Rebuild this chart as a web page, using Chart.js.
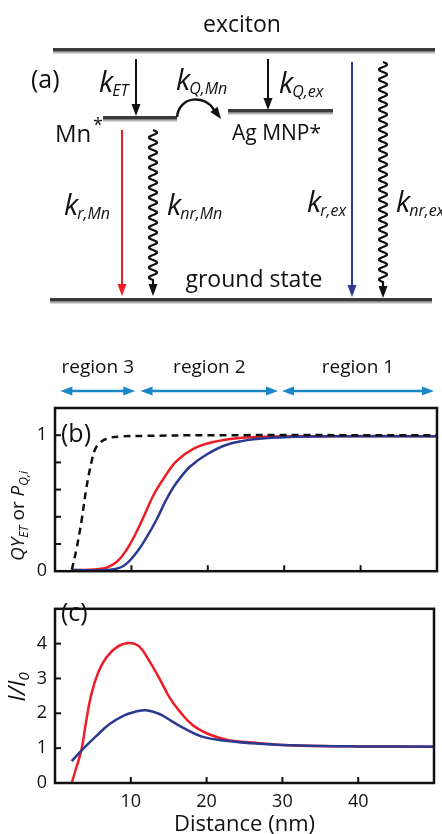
<!DOCTYPE html>
<html>
<head>
<meta charset="utf-8">
<script src="https://cdn.jsdelivr.net/npm/chart.js@4.4.1/dist/chart.umd.min.js"></script>
<style>
  html, body { margin: 0; padding: 0; background: #fff; }
  #wrap { position: relative; width: 442px; height: 834px; overflow: hidden; }
  canvas { position: absolute; left: 0; }
</style>
</head>
<body>
<div id="wrap">
  <canvas id="scheme" width="442" height="340" style="top:0"></canvas>
  <canvas id="qy" width="442" height="250" style="top:340px"></canvas>
  <canvas id="ratio" width="442" height="244" style="top:590px"></canvas>
</div>
<script>
const FONT = '"Open Sans", "Noto Sans", sans-serif';
const RED = '#ee1d25';
const BLUE = '#2b3990';
const CYAN = '#1b87c9';

// x axis (Distance, nm)
const xTicks = [10, 20, 30, 40];

// (b) QY_ET / P_Q,i — dashed black curve
const qyDashX = [2.2, 2.8, 3.5, 4.1, 4.8, 5.2, 5.8, 6.8, 8.5, 12, 20, 50];
const qyDashY = [0.01, 0.16, 0.38, 0.61, 0.81, 0.89, 0.94, 0.975, 0.99, 0.995, 1.0, 1.0];
// (b) red curve
const qyRedX = [2.2, 6.3, 8.1, 9.4, 10.5, 11.6, 12.9, 14.2, 15.9, 18.1, 20.7, 24.2, 28, 35, 50];
const qyRedY = [0.008, 0.02, 0.07, 0.16, 0.27, 0.40, 0.56, 0.68, 0.81, 0.90, 0.95, 0.98, 0.99, 0.993, 0.993];
// (b) blue curve
const qyBlueX = [2.2, 7.2, 9.0, 10.7, 12.0, 13.3, 14.6, 15.9, 17.7, 19.9, 22.5, 26, 30, 36, 50];
const qyBlueY = [0.008, 0.01, 0.04, 0.14, 0.25, 0.38, 0.53, 0.65, 0.77, 0.86, 0.93, 0.97, 0.985, 0.992, 0.993];

// (c) I/I0 — red curve
const ratioRedX = [2.2, 2.8, 3.5, 4.1, 4.8, 5.7, 6.8, 8.3, 9.8, 11.1, 12.4, 13.8, 15.1, 16.4, 18.1, 20.3, 22.9, 26, 30, 35, 40, 50];
const ratioRedY = [0, 0.43, 0.96, 1.76, 2.55, 3.17, 3.61, 3.92, 4.02, 3.92, 3.52, 2.99, 2.46, 2.07, 1.67, 1.40, 1.23, 1.16, 1.09, 1.06, 1.05, 1.04];
// (c) blue curve
const ratioBlueX = [2.2, 3.7, 5.5, 7.2, 9.0, 10.5, 12.0, 13.8, 15.5, 17.3, 19.4, 22.5, 26, 30, 35, 40, 50];
const ratioBlueY = [0.63, 0.98, 1.36, 1.69, 1.93, 2.04, 2.09, 1.98, 1.76, 1.54, 1.33, 1.21, 1.14, 1.09, 1.06, 1.05, 1.04];

// regions above panel (b), in nm
const regionLabels = ['region 3', 'region 2', 'region 1'];
const regionFrom = [0.7, 11.2, 29.7];
const regionTo = [10.5, 29.2, 49.6];

const pts = (xs, ys) => xs.map((x, i) => ({ x, y: ys[i] }));

// ---------- schematic (a) ----------
function level(ctx, x1, x2, y) {
  ctx.fillStyle = '#3a3a3a';
  ctx.fillRect(x1, y - 2, x2 - x1, 3.5);
  ctx.fillStyle = 'rgba(0,0,0,0.3)';
  ctx.fillRect(x1, y + 1.5, x2 - x1, 2);
}
function head(ctx, x, y, ang, color) {
  ctx.save();
  ctx.translate(x, y);
  ctx.rotate(ang);
  ctx.beginPath();
  ctx.moveTo(0, 0);
  ctx.lineTo(-12, -4.5);
  ctx.lineTo(-12, 4.5);
  ctx.closePath();
  ctx.fillStyle = color;
  ctx.fill();
  ctx.restore();
}
function vArrow(ctx, x, y1, y2, color) {
  ctx.strokeStyle = color;
  ctx.lineWidth = 2;
  ctx.beginPath();
  ctx.moveTo(x, y1);
  ctx.lineTo(x, y2 - 10);
  ctx.stroke();
  head(ctx, x, y2, Math.PI / 2, color);
}
function wavy(ctx, x, y1, y2) {
  const n = Math.floor((y2 - 11 - y1) / 10);
  const end = y1 + n * 10;
  ctx.strokeStyle = '#111';
  ctx.lineWidth = 2.2;
  ctx.beginPath();
  ctx.moveTo(x, y1);
  for (let y = y1; y <= end; y += 0.5) {
    ctx.lineTo(x + 4 * Math.sin((y - y1) / 10 * 2 * Math.PI), y);
  }
  ctx.lineTo(x, y2 - 10);
  ctx.stroke();
  head(ctx, x, y2, Math.PI / 2, '#111');
}
function kLabel(ctx, x, y, sub) {
  ctx.fillStyle = '#111';
  ctx.textAlign = 'left';
  ctx.textBaseline = 'alphabetic';
  ctx.font = 'italic 29px ' + FONT;
  ctx.fillText('k', x, y);
  const w = ctx.measureText('k').width;
  ctx.font = 'italic 16px ' + FONT;
  ctx.fillText(sub, x + w - 1, y + 4);
}

(function drawScheme() {
  const ctx = document.getElementById('scheme').getContext('2d');
  ctx.fillStyle = '#111';
  ctx.textBaseline = 'alphabetic';
  ctx.textAlign = 'center';
  ctx.font = '23px ' + FONT;
  ctx.fillText('exciton', 242, 32);
  ctx.fillText('ground state', 254, 287);
  ctx.textAlign = 'left';
  ctx.font = '25px ' + FONT;
  ctx.fillText('(a)', 31, 88);
  ctx.font = '24px ' + FONT;
  ctx.fillText('Mn', 55, 142);
  ctx.font = '18px ' + FONT;
  ctx.fillText('*', 93, 131);
  ctx.font = '21px ' + FONT;
  ctx.fillText('Ag MNP*', 232, 140);

  level(ctx, 53, 435, 50);
  level(ctx, 50, 432, 300);
  level(ctx, 103, 177, 118);
  level(ctx, 228, 333, 111);

  vArrow(ctx, 136, 59, 116, '#111');
  vArrow(ctx, 268, 59, 110, '#111');
  vArrow(ctx, 122, 130, 296, RED);
  vArrow(ctx, 352, 62, 297, BLUE);
  wavy(ctx, 153, 130, 296);
  wavy(ctx, 383, 62, 298);

  // k_Q,Mn transfer hop
  ctx.strokeStyle = '#111';
  ctx.lineWidth = 2.5;
  ctx.beginPath();
  ctx.moveTo(177, 117);
  ctx.bezierCurveTo(179, 96, 205, 94, 214, 110);
  ctx.stroke();
  head(ctx, 221, 119, Math.atan2(11, 8), '#111');

  kLabel(ctx, 99, 92, 'ET');
  kLabel(ctx, 176, 90, 'Q,Mn');
  kLabel(ctx, 279, 93, 'Q,ex');
  kLabel(ctx, 64, 215, 'r,Mn');
  kLabel(ctx, 167, 215, 'nr,Mn');
  kLabel(ctx, 307, 212, 'r,ex');
  kLabel(ctx, 396, 212, 'nr,ex');
})();

// ---------- shared chart helpers ----------
Chart.defaults.color = '#111';
Chart.defaults.font.family = FONT;

// frame + inward tick marks
const framePlugin = {
  id: 'frame',
  afterDraw(chart) {
    const { ctx, chartArea: a, scales } = chart;
    ctx.save();
    ctx.strokeStyle = '#111';
    ctx.lineWidth = 2;
    xTicks.forEach(v => {
      const px = scales.x.getPixelForValue(v);
      ctx.beginPath();
      ctx.moveTo(px, a.bottom);
      ctx.lineTo(px, a.bottom - 6);
      ctx.stroke();
    });
    scales.y.ticks.forEach(t => {
      if (t.value <= scales.y.min || t.value >= scales.y.max) return;
      const py = scales.y.getPixelForValue(t.value);
      ctx.beginPath();
      ctx.moveTo(a.left, py);
      ctx.lineTo(a.left + 6, py);
      ctx.stroke();
    });
    ctx.lineWidth = 2.5;
    ctx.strokeRect(a.left, a.top, a.right - a.left, a.bottom - a.top);
    ctx.restore();
  }
};

// text with subscripts, rotated for a y title; parts: [text, italic, sub]
function drawRotated(ctx, cx, cy, parts, size, subSize) {
  ctx.save();
  ctx.translate(cx, cy);
  ctx.rotate(-Math.PI / 2);
  ctx.textBaseline = 'middle';
  ctx.textAlign = 'left';
  ctx.fillStyle = '#111';
  const fontOf = p => (p[1] ? 'italic ' : '') + (p[2] ? subSize : size) + 'px ' + FONT;
  let total = 0;
  parts.forEach(p => { ctx.font = fontOf(p); total += ctx.measureText(p[0]).width; });
  let x = -total / 2;
  parts.forEach(p => {
    ctx.font = fontOf(p);
    ctx.fillText(p[0], x, p[2] ? size * 0.28 : 0);
    x += ctx.measureText(p[0]).width;
  });
  ctx.restore();
}

const xScale = (showLabels) => ({
  type: 'linear',
  min: 0,
  max: 50,
  grid: { display: false, drawTicks: false },
  border: { display: false },
  ticks: {
    display: showLabels,
    stepSize: 10,
    padding: 8,
    font: { size: 18 },
    callback: v => (v > 0 && v < 50 ? String(v) : '')
  }
});

const line = (xs, ys, color, dash) => ({
  data: pts(xs, ys),
  borderColor: color,
  borderWidth: 2.5,
  borderDash: dash || [],
  pointRadius: 0,
  tension: 0.4
});

// ---------- (b) ----------
new Chart(document.getElementById('qy'), {
  type: 'line',
  data: {
    datasets: [
      line(qyDashX, qyDashY, '#111', [7, 5]),
      line(qyBlueX, qyBlueY, BLUE),
      line(qyRedX, qyRedY, RED)
    ]
  },
  options: {
    responsive: false,
    animation: false,
    layout: { padding: { top: 68, right: 5, left: 0, bottom: 0 } },
    plugins: { legend: { display: false }, tooltip: { enabled: false } },
    scales: {
      x: { ...xScale(false), afterFit: s => { s.height = 3; } },
      y: {
        min: 0,
        max: 1.2,
        grid: { display: false, drawTicks: false },
        border: { display: false },
        ticks: {
          stepSize: 0.2,
          padding: 8,
          font: { size: 18 },
          callback: v => (Math.abs(v) < 1e-6 ? '0' : Math.abs(v - 1) < 1e-6 ? '1' : '')
        },
        afterFit: s => { s.width = 55; }
      }
    }
  },
  plugins: [framePlugin, {
    id: 'extrasB',
    afterDraw(chart) {
      const { ctx, scales } = chart;
      ctx.save();
      // region arrows
      ctx.strokeStyle = CYAN;
      ctx.lineWidth = 2.5;
      ctx.font = '19px ' + FONT;
      ctx.textAlign = 'center';
      ctx.textBaseline = 'alphabetic';
      regionLabels.forEach((lab, i) => {
        const x1 = scales.x.getPixelForValue(regionFrom[i]);
        const x2 = scales.x.getPixelForValue(regionTo[i]);
        ctx.beginPath();
        ctx.moveTo(x1 + 8, 51);
        ctx.lineTo(x2 - 8, 51);
        ctx.stroke();
        head(ctx, x2, 51, 0, CYAN);
        head(ctx, x1, 51, Math.PI, CYAN);
        ctx.fillStyle = '#111';
        ctx.fillText(lab, (x1 + x2) / 2, 33);
      });
      ctx.textAlign = 'left';
      ctx.font = '25px ' + FONT;
      ctx.fillText('(b)', 61, 102);
      ctx.restore();
      drawRotated(ctx, 19, 176, [['QY', true, false], ['ET', true, true], [' or ', false, false], ['P', true, false], ['Q,i', true, true]], 19, 12);
    }
  }]
});

// ---------- (c) ----------
new Chart(document.getElementById('ratio'), {
  type: 'line',
  data: {
    datasets: [
      line(ratioBlueX, ratioBlueY, BLUE),
      line(ratioRedX, ratioRedY, RED)
    ]
  },
  options: {
    responsive: false,
    animation: false,
    layout: { padding: { top: 3, right: 5, left: 0, bottom: 0 } },
    plugins: { legend: { display: false }, tooltip: { enabled: false } },
    scales: {
      x: {
        ...xScale(true),
        title: { display: true, text: 'Distance (nm)', font: { size: 22, lineHeight: 0.8 }, padding: 0 },
        afterFit: s => { s.height = 51; }
      },
      y: {
        min: 0,
        max: 5,
        grid: { display: false, drawTicks: false },
        border: { display: false },
        ticks: {
          stepSize: 1,
          padding: 8,
          font: { size: 18 },
          callback: v => (v < 5 ? String(v) : '')
        },
        afterFit: s => { s.width = 55; }
      }
    }
  },
  plugins: [framePlugin, {
    id: 'extrasC',
    afterDraw(chart) {
      const { ctx } = chart;
      ctx.save();
      ctx.fillStyle = '#111';
      ctx.textAlign = 'left';
      ctx.textBaseline = 'alphabetic';
      ctx.font = '25px ' + FONT;
      ctx.fillText('(c)', 61, 31);
      ctx.restore();
      drawRotated(ctx, 18, 97, [['I/I', true, false], ['0', true, true]], 24, 15);
    }
  }]
});
</script>
</body>
</html>
